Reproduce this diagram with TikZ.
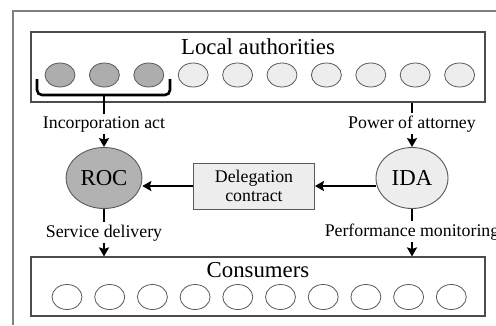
\documentclass[tikz,border=0pt]{standalone}
\usepackage{fontspec}
\setmainfont{Liberation Serif}
\usetikzlibrary{arrows.meta,shapes.geometric}

\newcommand{\bigtxt}{\fontsize{22.8}{26}\selectfont}
\newcommand{\smalltxt}{\fontsize{17.8}{19}\selectfont}

\tikzset{
  panel/.style={draw=black!70,line width=1.1pt,fill=white,minimum width=454pt,inner sep=0pt},
  member/.style={ellipse,draw=black!65,line width=0.8pt,minimum width=30pt,minimum height=24pt,inner sep=0pt},
  body/.style={ellipse,draw=black!65,line width=0.9pt,minimum width=72pt,minimum height=61pt,font=\bigtxt},
  relation/.style={font=\smalltxt,inner sep=2pt,anchor=base},
  link/.style={line width=2.6pt},
  flow/.style={line width=2.6pt,-{Stealth[length=9pt,width=10pt,inset=1.5pt]}},
}

\begin{document}
\begin{tikzpicture}[x=1pt,y=-1pt]
\useasboundingbox (0,0) rectangle (496,325);
\def\sa{44.4}   % spacing of the authorities
\def\sc{42.7}   % spacing of the consumers
% outer frame
\draw[black!50,line width=1.6pt] (13,325) -- (13,11) -- (496,11);

% local authorities
\node[panel,minimum height=70pt] (auth) at (258,67) {};
\node[font=\bigtxt,anchor=base] (authlbl) at (258,54.5) {Local authorities};
\foreach \i in {1,...,10}{
  \ifnum\i<4 \def\shade{black!32}\else\def\shade{black!7}\fi
  \node[member,fill=\shade] (a\i) at ({60+(\i-1)*\sa},75) {};
}
% bracket under the first three
\draw[link,rounded corners=5pt] (37,79) -- (37,95) -- (170,95) -- (170,79);
\coordinate (brk) at (104,95);

% operators and contract
\node[body,fill=black!30] (roc) at (104,178) {ROC};
\node[body,fill=black!7] (ida) at (412,178) {IDA};
\node[draw=black!65,line width=0.9pt,fill=black!7,minimum width=121pt,minimum height=46pt,
      align=center,font=\smalltxt] (deleg) at (254,186) {Delegation\\contract};

\node[relation] (incorp) at (104,128) {Incorporation act};
\node[relation] (attorney) at (412,128) {Power of attorney};
\node[relation] (service) at (104,237) {Service delivery};
\node[relation] (monitor) at (412,236) {Performance monitoring};

% consumers
\node[panel,minimum height=59pt] (cons) at (258,286.5) {};
\node[font=\bigtxt,anchor=base] (conslbl) at (258,277) {Consumers};
\foreach \i in {1,...,10}
  \node[member,fill=white,minimum height=25pt] (c\i) at ({67+(\i-1)*\sc},297) {};

% connectors
\draw[link] (brk) -- (incorp.north);
\draw[flow] (incorp.south) -- (roc);
\draw[link] (attorney |- auth.south) -- (attorney.north);
\draw[flow] (attorney.south) -- (ida);
\draw[flow] (ida.west |- deleg) -- (deleg);
\draw[flow] (deleg.west) -- (roc.east |- deleg.west);
\draw[link] (roc) -- (service.north);
\draw[flow] (service.south) -- (service |- cons.north);
\draw[link] (ida) -- (monitor.north);
\draw[flow] (monitor.south) -- (monitor |- cons.north);
\end{tikzpicture}
\end{document}
